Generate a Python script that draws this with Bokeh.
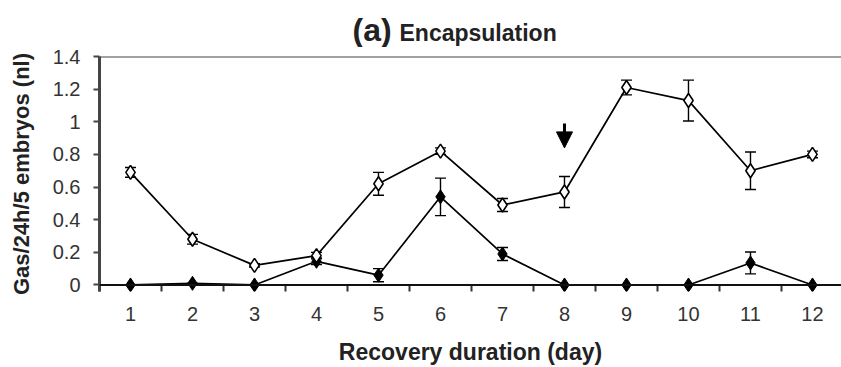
from bokeh.plotting import figure
from bokeh.layouts import column
from bokeh.models import (ColumnDataSource, Whisker, TeeHead, Arrow, NormalHead, Span,
                          Label, FixedTicker, CustomJSTickFormatter, Range1d)
from bokeh.embed import file_html
from bokeh.resources import INLINE

# ---- data ----
days = [1, 2, 3, 4, 5, 6, 7, 8, 9, 10, 11, 12]
open_vals = [0.69, 0.28, 0.12, 0.18, 0.62, 0.82, 0.49, 0.57, 1.21, 1.13, 0.70, 0.80]
open_err = [0.03, 0.03, 0.01, 0.02, 0.07, 0.02, 0.04, 0.095, 0.045, 0.125, 0.115, 0.02]
filled_vals = [0.0, 0.01, 0.0, 0.145, 0.06, 0.54, 0.19, 0.0, 0.0, 0.0, 0.135, 0.0]
filled_err = [0.0, 0.0, 0.0, 0.02, 0.04, 0.115, 0.04, 0.0, 0.0, 0.0, 0.067, 0.0]
y_ticks = [0, 0.2, 0.4, 0.6, 0.8, 1.0, 1.2, 1.4]
arrow_day = 8
arrow_top, arrow_tip = 0.99, 0.84
title_tag = "(a)"
title_text = "Encapsulation"

FONT = "Liberation Sans"
TXT = "#222222"

xr = Range1d(0.5, 12.468)

# ---- title strip (its own small figure so the text is not clipped) ----
t = figure(width=841, height=47, output_backend="svg", toolbar_location=None,
           x_range=xr, y_range=Range1d(0, 47),
           x_axis_type=None, y_axis_type=None,
           min_border_left=99, min_border_right=0, min_border_top=0, min_border_bottom=0)
t.outline_line_color = None
t.xgrid.visible = False
t.ygrid.visible = False
t.add_layout(Label(x=4.581, y=18, text=title_tag, text_font=FONT, text_font_size="32px",
                   text_font_style="bold", text_color=TXT, text_baseline="middle"))
t.add_layout(Label(x=5.339, y=15, text=title_text, text_font=FONT, text_font_size="23px",
                   text_font_style="bold", text_color=TXT, text_baseline="middle"))

# ---- main plot ----
p = figure(width=841, height=320, output_backend="svg", toolbar_location=None,
           x_range=xr, y_range=Range1d(-0.04, 1.4),
           min_border_left=99, min_border_right=0, min_border_top=9, min_border_bottom=76)
p.outline_line_color = None
p.xgrid.visible = False
p.ygrid.visible = False
p.background_fill_color = "white"
p.border_fill_color = "white"

# x axis
xa = p.xaxis[0]
xa.ticker = FixedTicker(ticks=days, minor_ticks=[d - 0.5 for d in days] + [12.5])
xa.axis_line_color = None
xa.major_tick_out = 0
xa.major_tick_in = 0
xa.minor_tick_out = 0
xa.minor_tick_in = 6
xa.minor_tick_line_color = "#333333"
xa.minor_tick_line_width = 2
xa.major_label_text_font = FONT
xa.major_label_text_font_size = "20px"
xa.major_label_text_color = "#333333"
xa.major_label_standoff = 15
xa.axis_label = "Recovery duration (day)"
xa.axis_label_text_font = FONT
xa.axis_label_text_font_size = "23px"
xa.axis_label_text_font_style = "bold"
xa.axis_label_text_color = TXT
xa.axis_label_standoff = 15

# y axis
ya = p.yaxis[0]
ya.ticker = FixedTicker(ticks=y_ticks, minor_ticks=[])
ya.formatter = CustomJSTickFormatter(code="return tick.toFixed(1).replace(/\\.0$/, '');")
ya.axis_line_color = "#444444"
ya.axis_line_width = 3
ya.major_tick_out = 6
ya.major_tick_in = 0
ya.major_tick_line_color = "#444444"
ya.major_tick_line_width = 2
ya.minor_tick_out = 0
ya.minor_tick_in = 0
ya.major_label_text_font = FONT
ya.major_label_text_font_size = "20px"
ya.major_label_text_color = "#333333"
ya.major_label_standoff = 13
ya.axis_label = "Gas/24h/5 embryos (nl)"
ya.axis_label_text_font = FONT
ya.axis_label_text_font_size = "22px"
ya.axis_label_text_font_style = "bold"
ya.axis_label_text_color = TXT
ya.axis_label_standoff = 16

# reference lines: zero line and top line
p.add_layout(Span(location=0, dimension="width", line_color="#111111", line_width=2))
p.add_layout(Span(location=1.4, dimension="width", line_color="#444444", line_width=2))

src_f = ColumnDataSource(dict(x=days, y=filled_vals,
                              lo=[v - e for v, e in zip(filled_vals, filled_err)],
                              hi=[v + e for v, e in zip(filled_vals, filled_err)]))
src_o = ColumnDataSource(dict(x=days, y=open_vals,
                              lo=[v - e for v, e in zip(open_vals, open_err)],
                              hi=[v + e for v, e in zip(open_vals, open_err)]))

# filled series
p.line("x", "y", source=src_f, line_color="black", line_width=1.7)
p.add_layout(Whisker(source=src_f, base="x", lower="lo", upper="hi", dimension="height",
                     line_color="black", line_width=1.4,
                     upper_head=TeeHead(size=11, line_color="black", line_width=1.4),
                     lower_head=TeeHead(size=11, line_color="black", line_width=1.4)))
p.scatter("x", "y", source=src_f, marker="diamond", size=14, fill_color="black",
          line_color="black", line_width=1)

# open series
p.line("x", "y", source=src_o, line_color="black", line_width=1.7)
p.add_layout(Whisker(source=src_o, base="x", lower="lo", upper="hi", dimension="height",
                     line_color="black", line_width=1.4,
                     upper_head=TeeHead(size=11, line_color="black", line_width=1.4),
                     lower_head=TeeHead(size=11, line_color="black", line_width=1.4)))
p.scatter("x", "y", source=src_o, marker="diamond", size=14, fill_color="white",
          line_color="black", line_width=1.6)

# arrow
p.add_layout(Arrow(x_start=arrow_day, y_start=arrow_top, x_end=arrow_day, y_end=arrow_tip,
                   line_width=3, line_color="black",
                   end=NormalHead(size=16, fill_color="black", line_color="black", line_width=1)))

layout = column(t, p, spacing=0)
open("out.html", "w").write(file_html(layout, INLINE))
